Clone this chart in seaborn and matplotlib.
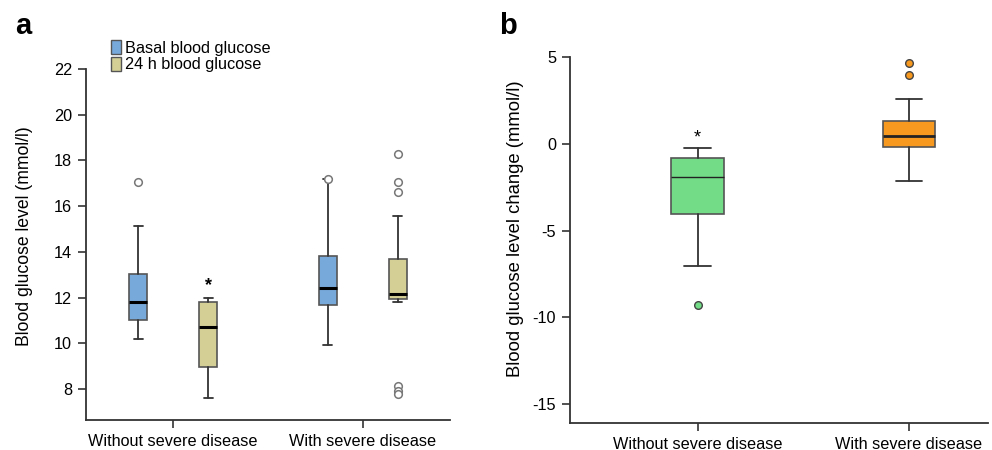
import matplotlib
matplotlib.use("Agg")
import matplotlib.pyplot as plt
import seaborn as sns
from matplotlib.patches import Patch

# ---- panel a: blood glucose level (mmol/l) ----
groups = ["Without severe disease", "With severe disease"]
series = ["Basal blood glucose", "24 h blood glucose"]
series_colors = ["#78a9db", "#d3cf95"]

# per box: [without, with]
basal_whislo = [10.19, 9.92]
basal_q1 = [11.02, 11.65]
basal_med = [11.80, 12.40]
basal_q3 = [13.03, 13.83]
basal_whishi = [15.13, 17.20]
basal_fliers = [[17.06], [17.20]]

h24_whislo = [7.62, 11.80]
h24_q1 = [8.98, 11.93]
h24_med = [10.73, 12.14]
h24_q3 = [11.82, 13.68]
h24_whishi = [11.97, 15.57]
h24_fliers = [[], [18.28, 17.06, 16.60, 8.14, 7.90, 7.78]]

# ---- panel b: change in blood glucose level (mmol/l) ----
change_colors = ["#72dd86", "#f7981f"]
chg_whislo = [-7.07, -2.16]
chg_q1 = [-4.03, -0.17]
chg_med = [-1.89, 0.46]
chg_q3 = [-0.79, 1.33]
chg_whishi = [-0.25, 2.60]
chg_fliers = [[-9.27], [4.64, 3.97]]


def make_stats(lo, q1, med, q3, hi, fliers):
    return [dict(whislo=a, q1=b, med=c, q3=d, whishi=e, fliers=f)
            for a, b, c, d, e, f in zip(lo, q1, med, q3, hi, fliers)]


sns.set_theme(style="ticks")
plt.rcParams["font.family"] = ["Liberation Sans", "DejaVu Sans"]
plt.rcParams["font.size"] = 11.7
plt.rcParams["axes.unicode_minus"] = False
plt.rcParams["text.color"] = "black"
plt.rcParams["axes.labelcolor"] = "black"
plt.rcParams["xtick.color"] = "black"
plt.rcParams["ytick.color"] = "black"

fig = plt.figure(figsize=(9.92, 4.5), dpi=100)
ax1 = fig.add_axes([0.0867, 0.0667, 0.367, 0.78])
ax2 = fig.add_axes([0.5746, 0.06, 0.4214, 0.813])

edge = "#555555"
box_w = 0.095
offset = 0.184

basal_stats = make_stats(basal_whislo, basal_q1, basal_med, basal_q3, basal_whishi, basal_fliers)
h24_stats = make_stats(h24_whislo, h24_q1, h24_med, h24_q3, h24_whishi, h24_fliers)

for stats, color, off in [(basal_stats, series_colors[0], -offset),
                          (h24_stats, series_colors[1], offset)]:
    ax1.bxp(stats, positions=[i + off for i in range(len(groups))], widths=box_w,
            patch_artist=True, manage_ticks=False,
            boxprops=dict(facecolor=color, edgecolor=edge, linewidth=1.2),
            medianprops=dict(color="black", linewidth=2.2),
            whiskerprops=dict(color="#333333", linewidth=1.3),
            capprops=dict(color="#333333", linewidth=1.3),
            capwidths=box_w / 2,
            flierprops=dict(marker="o", markersize=5.5, markerfacecolor="white",
                            markeredgecolor="#777777", markeredgewidth=1.1))

ax1.set_xlim(-0.46, 1.46)
ax1.set_ylim(6.64, 22)
ax1.set_yticks([8, 10, 12, 14, 16, 18, 20, 22])
ax1.set_xticks(range(len(groups)))
ax1.set_xticklabels(groups)
ax1.set_ylabel("Blood glucose level (mmol/l)", fontsize=12.7)
ax1.yaxis.set_label_coords(-0.145, 0.524)
ax1.text(0 + offset, 12.15, "*", ha="center", va="bottom", fontsize=13, fontweight="bold")

handles = [Patch(facecolor=c, edgecolor=edge, label=s) for s, c in zip(series, series_colors)]
ax1.legend(handles=handles, loc="lower left", bbox_to_anchor=(0.068, 0.99), frameon=False,
           handlelength=0.65, handleheight=0.9, handletextpad=0.25, labelspacing=0.1,
           borderaxespad=0, borderpad=0, fontsize=11.7)

chg_stats = make_stats(chg_whislo, chg_q1, chg_med, chg_q3, chg_whishi, chg_fliers)
chg_w = 0.25
med_widths = [1.0, 2.0]
for i, (st, color) in enumerate(zip(chg_stats, change_colors)):
    ax2.bxp([st], positions=[i], widths=chg_w, patch_artist=True, manage_ticks=False,
            boxprops=dict(facecolor=color, edgecolor=edge, linewidth=1.2),
            medianprops=dict(color="#222222", linewidth=med_widths[i]),
            whiskerprops=dict(color="#333333", linewidth=1.3),
            capprops=dict(color="#333333", linewidth=1.3),
            capwidths=chg_w / 2,
            flierprops=dict(marker="o", markersize=5.5, markerfacecolor=color,
                            markeredgecolor="#444444", markeredgewidth=1.0))

ax2.set_xlim(-0.604, 1.374)
ax2.set_ylim(-16.1, 5.0)
ax2.set_yticks([5, 0, -5, -10, -15])
ax2.set_xticks(range(len(groups)))
ax2.set_xticklabels(groups)
ax2.set_ylabel("Blood glucose level change (mmol/l)", fontsize=13.3)
ax2.yaxis.set_label_coords(-0.11, 0.53)
ax2.text(0, -0.15, "*", ha="center", va="bottom", fontsize=13)

for ax in (ax1, ax2):
    sns.despine(ax=ax)
    ax.tick_params(length=6, width=1.2, color="#333333", labelsize=11.7, pad=4)
    for sp in ("left", "bottom"):
        ax.spines[sp].set_linewidth(1.3)
        ax.spines[sp].set_color("#333333")

fig.text(0.015, 0.925, "a", fontsize=21, fontweight="bold")
fig.text(0.503, 0.925, "b", fontsize=21, fontweight="bold")

fig.savefig("out.png", dpi=100)
